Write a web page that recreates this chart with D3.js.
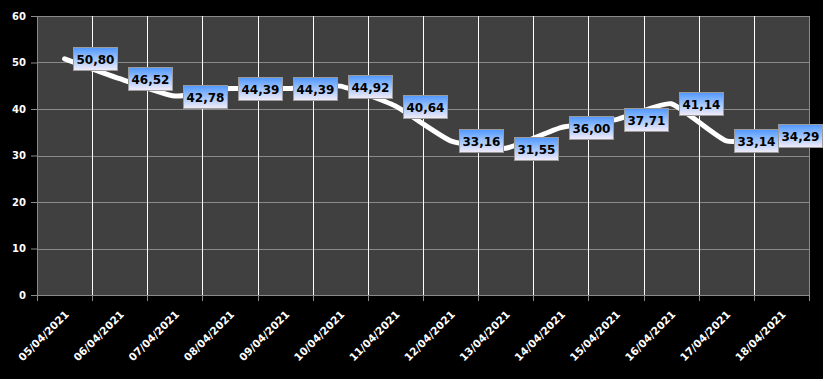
<!DOCTYPE html>
<html>
<head>
<meta charset="utf-8">
<script src="https://cdn.jsdelivr.net/npm/d3@7"></script>
<style>
  body { margin: 0; background: #fff; }
  svg { display: block; }
  .axis text { font-family: "DejaVu Sans", sans-serif; font-weight: bold; fill: #fff; }
</style>
</head>
<body>
<div id="chart"></div>
<script>
var dates = ['05/04/2021', '06/04/2021', '07/04/2021', '08/04/2021', '09/04/2021', '10/04/2021', '11/04/2021',
  '12/04/2021', '13/04/2021', '14/04/2021', '15/04/2021', '16/04/2021', '17/04/2021', '18/04/2021'];
var values = [50.80, 46.52, 42.78, 44.39, 44.39, 44.92, 40.64, 33.16, 31.55, 36.00, 37.71, 41.14, 33.14, 34.29];
var yTicks = [0, 10, 20, 30, 40, 50, 60];

var W = 823, H = 379;
var margin = {top: 16, right: 14, bottom: 84, left: 37},
    width = W - margin.left - margin.right,
    height = H - margin.top - margin.bottom;

var data = dates.map((d, i) => ({date: d, value: values[i]}));

var svg = d3.select('#chart').append('svg')
    .attr('width', W)
    .attr('height', H);

svg.append('rect').attr('width', W).attr('height', H).attr('fill', '#000');

var defs = svg.append('defs');
var grad = defs.append('linearGradient')
    .attr('id', 'lblGrad')
    .attr('x1', 0).attr('y1', 0).attr('x2', 0).attr('y2', 1);
grad.append('stop').attr('offset', '0%').attr('stop-color', '#4f97ff');
grad.append('stop').attr('offset', '55%').attr('stop-color', '#a9c9fb');
grad.append('stop').attr('offset', '100%').attr('stop-color', '#f4ecf8');

var g = svg.append('g')
    .attr('transform', 'translate(' + margin.left + ',' + margin.top + ')');

var x = d3.scaleBand()
    .domain(dates)
    .range([0, width]);

var y = d3.scaleLinear()
    .domain([0, 60])
    .range([height, 0]);

g.append('rect')
    .attr('width', width)
    .attr('height', height)
    .attr('fill', '#404040');

// horizontal gridlines
g.selectAll('.hgrid')
    .data(yTicks.slice(1))
  .enter().append('line')
    .attr('class', 'hgrid')
    .attr('x1', 0).attr('x2', width)
    .attr('y1', d => Math.round(y(d)) + 0.5)
    .attr('y2', d => Math.round(y(d)) + 0.5)
    .attr('stroke', '#8a8a8a');

// vertical gridlines at band edges
g.selectAll('.vgrid')
    .data(dates.slice(1).concat(['end']))
  .enter().append('line')
    .attr('class', 'vgrid')
    .attr('x1', (d, i) => Math.round(x.step() * (i + 1)) + 0.5)
    .attr('x2', (d, i) => Math.round(x.step() * (i + 1)) + 0.5)
    .attr('y1', 0).attr('y2', height)
    .attr('stroke', (d, i) => i === dates.length - 1 ? '#8a8a8a' : '#fff');

// y axis
var yAxis = d3.axisLeft(y).tickValues(yTicks).tickSize(6).tickPadding(5).tickFormat(d3.format('d'));
var yg = g.append('g').attr('class', 'y axis').call(yAxis);
yg.select('.domain').attr('stroke', '#8a8a8a');
yg.selectAll('line').attr('stroke', '#8a8a8a');
yg.selectAll('text').style('font-size', '10px');

// x axis
var xAxis = d3.axisBottom(x).tickSize(0).tickPadding(0);
var xg = g.append('g').attr('class', 'x axis')
    .attr('transform', 'translate(0,' + height + ')')
    .call(xAxis);
xg.select('.domain').attr('stroke', '#8a8a8a').attr('d', 'M0.5,0.5H' + width);
xg.selectAll('.edge')
    .data(d3.range(dates.length + 1))
  .enter().append('line')
    .attr('x1', d => Math.round(x.step() * d) + 0.5)
    .attr('x2', d => Math.round(x.step() * d) + 0.5)
    .attr('y1', 0).attr('y2', 6)
    .attr('stroke', '#8a8a8a');
xg.selectAll('.tick text')
    .style('font-size', '10.5px')
    .attr('text-anchor', 'end')
    .attr('dy', 0)
    .attr('transform', 'translate(5,20) rotate(-45)');

// line
var line = d3.line()
    .x(d => x(d.date) + x.bandwidth() / 2)
    .y(d => y(d.value))
    .curve(d3.curveCardinal.tension(0.55));

g.append('path')
    .datum(data)
    .attr('fill', 'none')
    .attr('stroke', '#fff')
    .attr('stroke-width', 5)
    .attr('stroke-linejoin', 'round')
    .attr('stroke-linecap', 'round')
    .attr('d', line);

// data labels
var fmt = d => d.toFixed(2).replace('.', ',');
var boxW = 44, boxH = 23;
var labels = g.selectAll('.lbl')
    .data(data)
  .enter().append('g')
    .attr('class', 'lbl')
    .attr('transform', d => {
      var lx = x(d.date) + x.bandwidth() / 2 + 8;
      lx = Math.min(lx, W - 1 - margin.left - boxW);
      return 'translate(' + Math.round(lx) + ',' + Math.round(y(d.value) - boxH / 2) + ')';
    });

labels.append('rect')
    .attr('x', 0.5).attr('y', 0.5)
    .attr('width', boxW).attr('height', boxH)
    .attr('fill', 'url(#lblGrad)')
    .attr('stroke', '#9a9a9a');

labels.append('text')
    .attr('x', boxW / 2 + 0.5)
    .attr('y', boxH / 2 + 5.5)
    .attr('text-anchor', 'middle')
    .style('font-family', '"DejaVu Sans", sans-serif')
    .style('font-weight', 'bold')
    .style('font-size', '12px')
    .attr('fill', '#000')
    .text(d => fmt(d.value));
</script>
</body>
</html>
